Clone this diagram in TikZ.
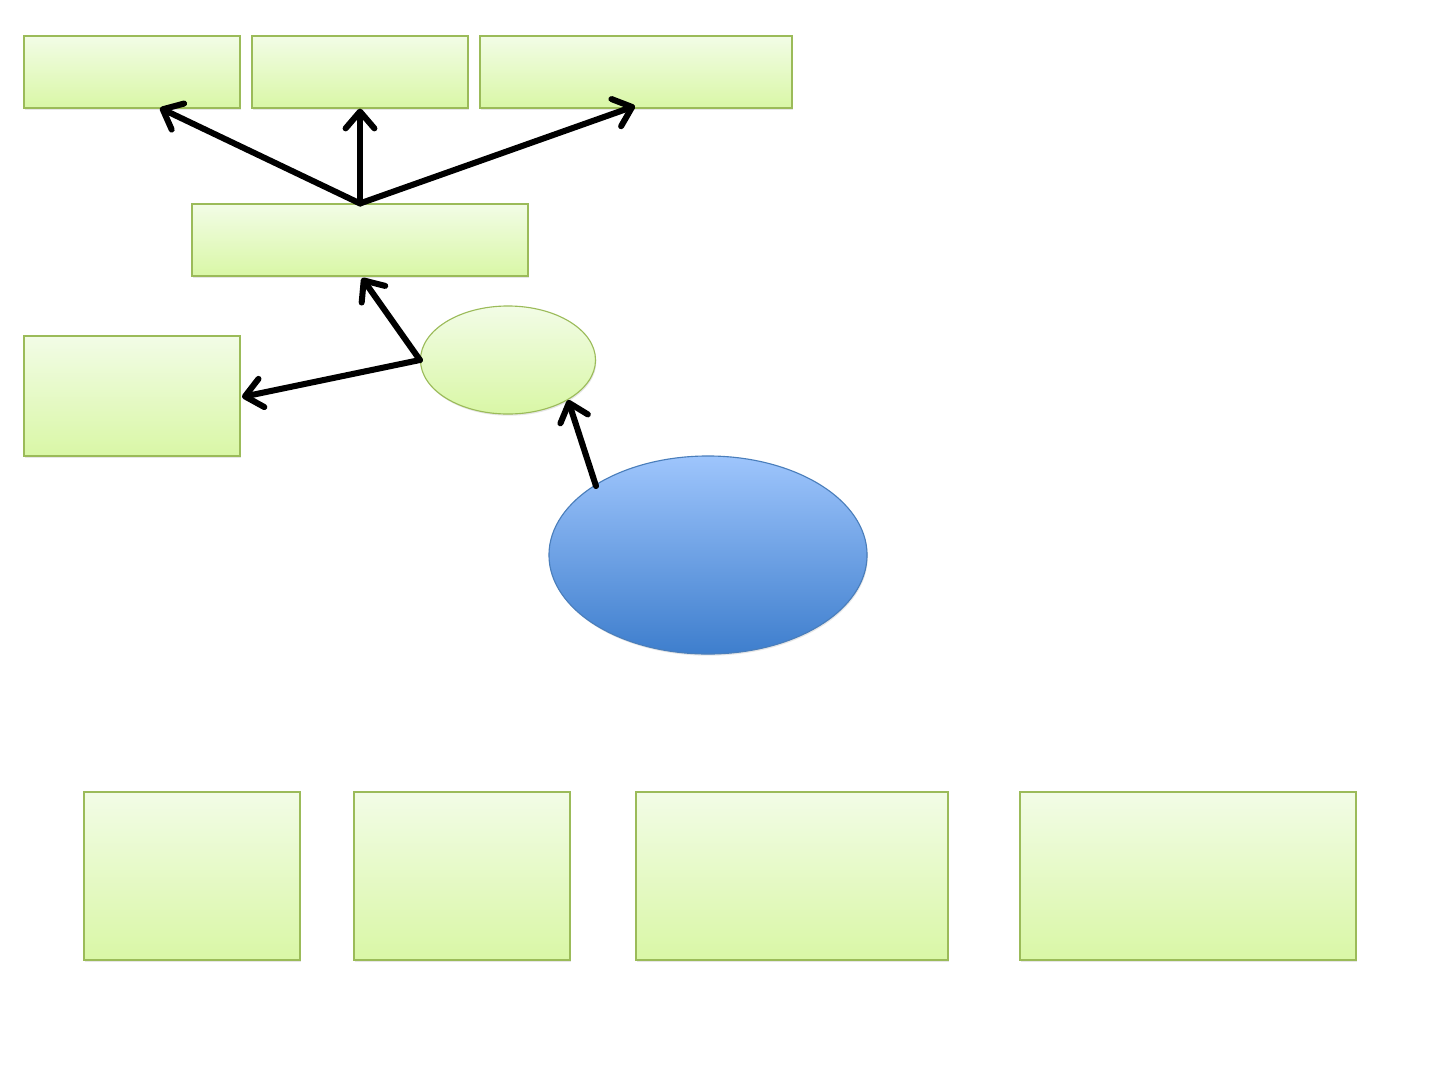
\documentclass[tikz,border=0pt]{standalone}
\usepackage{tikz}
\usetikzlibrary{arrows.meta}
\usetikzlibrary{shapes.geometric}
\usetikzlibrary{fit}
\usetikzlibrary{shadows}
\definecolor{gtop}{HTML}{F2FCE6}
\definecolor{gbot}{HTML}{D9F7A6}
\definecolor{gline}{HTML}{9BBB59}
\definecolor{btop}{HTML}{9EC5FC}
\definecolor{bbot}{HTML}{3E7ECD}
\definecolor{bline}{HTML}{4A7EBB}
\tikzset{
  gbox/.style={draw=gline, thick, top color=gtop, bottom color=gbot, inner sep=0pt,
    drop shadow={opacity=0.2, shadow xshift=0.6pt, shadow yshift=-1.2pt}},
  goval/.style={gbox, ellipse, minimum width=4.375cm, minimum height=2.7cm},
  boval/.style={draw=bline, thick, ellipse, top color=btop, bottom color=bbot, inner sep=0pt,
    minimum width=7.95cm, minimum height=4.95cm,
    drop shadow={opacity=0.2, shadow xshift=0.6pt, shadow yshift=-1.2pt}},
  link/.style={line width=4.3pt, line cap=round,
    -{Straight Barb[length=0.42cm, width=0.72cm, line width=4.3pt, round]}}
}
\newcommand{\gbox}[5]{\node[gbox, fit={(#2,#3) (#4,#5)}] (#1) {};}
\begin{document}
\begin{tikzpicture}[x=0.025cm, y=-0.025cm]
        \useasboundingbox (0,0) rectangle (1440,1080);
        % top row
        \gbox{topA}{24}{36}{240}{108}
        \gbox{topB}{252}{36}{468}{108}
        \gbox{topC}{480}{36}{792}{108}
        % middle
        \gbox{mid}{192}{204}{528}{276}
        \gbox{left}{24}{336}{240}{456}
        \node[goval] (oval) at (508,360) {};
        \node[boval] (core) at (708,555) {};
        % bottom row
        \gbox{botA}{84}{792}{300}{960}
        \gbox{botB}{354}{792}{570}{960}
        \gbox{botC}{636}{792}{948}{960}
        \gbox{botD}{1020}{792}{1356}{960}
        % arrows
        \coordinate (hub) at (mid.north);
        \coordinate (tA) at (160,108);
        \coordinate (tC) at (635,106);
        \coordinate (tM) at (362,278);
        \coordinate (tL) at (242,397);
        \coordinate (cs) at (596,486);
        \coordinate (ce) at (568,400);
        \draw[link] (hub) -- (tA);
        \draw[link] (hub) -- (topB.south);
        \draw[link] (hub) -- (tC);
        \draw[link] (oval.west) -- (tM);
        \draw[link] (oval.west) -- (tL);
        \draw[link] (cs) -- (ce);
\end{tikzpicture}
\end{document}
